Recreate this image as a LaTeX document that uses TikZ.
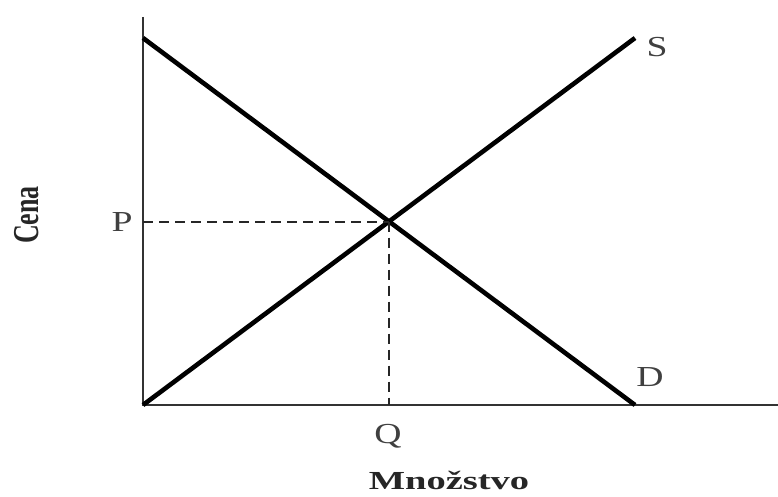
\documentclass[tikz,border=0pt]{standalone}
\usepackage{fontspec}
\setmainfont{Liberation Serif}
\usetikzlibrary{calc}

\tikzset{
  axis/.style={line width=2.6pt, black!80},
  curve/.style={line width=4.6pt, black},
  guide/.style={line width=2pt, black!85, dash pattern=on 10pt off 6pt},
  letter/.style={font=\fontsize{29}{29}\selectfont, text=black!75, inner sep=0pt},
  axtitle/.style={font=\fontsize{26}{26}\selectfont\bfseries, text=black!85, inner sep=0pt}
}
\newcommand{\wide}[1]{\scalebox{1.3}[1]{#1}}

\begin{document}
\begin{tikzpicture}[x=1pt, y=-1pt]
  \useasboundingbox (0,0) rectangle (778,497);
  % ---- axes ----
  \coordinate (O) at (143,405);
  \coordinate (ytop) at (143,17);
  \coordinate (xend) at (778,405);
  \draw[axis] (ytop) -- (O) -- (xend);
  % ---- supply and demand ----
  \coordinate (dtop) at (143,38);
  \coordinate (dend) at (635,405);
  \coordinate (send) at (635,38);
  \coordinate (E) at (389,221.5);
  \draw[curve] (dtop) -- (dend);
  \draw[curve] (O) -- (send);
  % ---- equilibrium guides ----
  \coordinate (pax) at (143,221.5);
  \coordinate (qax) at (389,405);
  \draw[guide] (pax) -- (E);
  \draw[guide] (E) -- (qax);
  % ---- labels ----
  \node[letter, anchor=base] (labS) at (657,57) {\wide{S}};
  \node[letter, anchor=base] (labD) at (650,386) {\wide{D}};
  \node[letter, anchor=base] (labP) at (122,231) {\wide{P}};
  \node[letter, anchor=base] (labQ) at (388,443) {\wide{Q}};
  \node[axtitle] (cena) at (27,215) {\rotatebox{90}{\scalebox{1}[1.4]{Cena}}};
  \node[axtitle, anchor=base] (kolicina) at (449,489) {\scalebox{1.48}[1]{Množstvo}};
\end{tikzpicture}
\end{document}
